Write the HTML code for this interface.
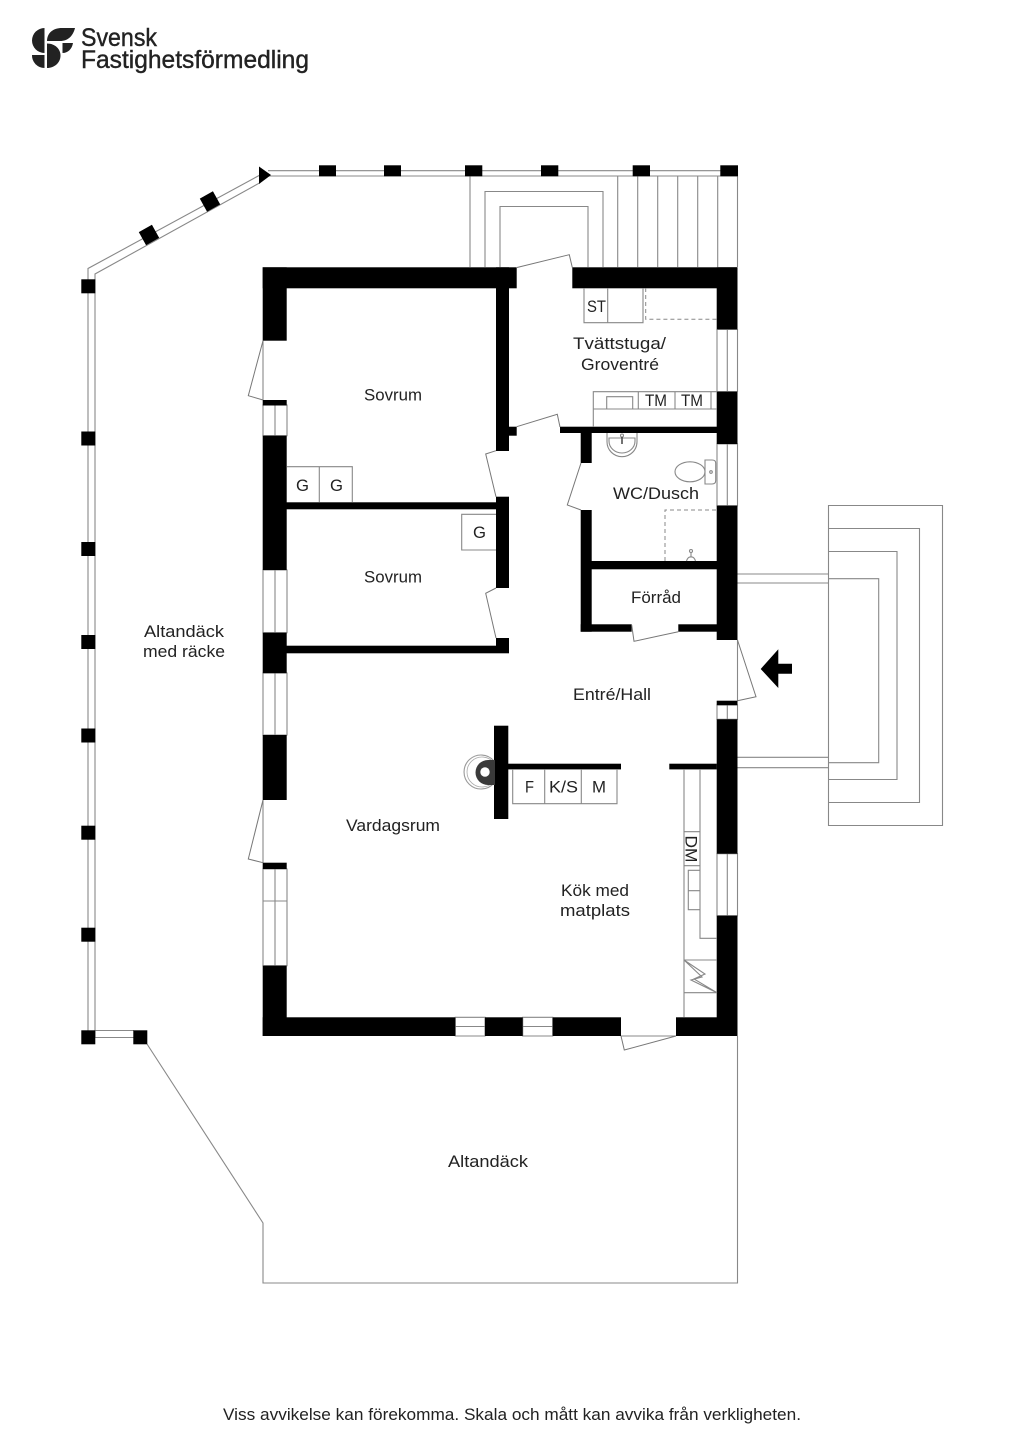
<!DOCTYPE html>
<html lang="sv"><head><meta charset="utf-8"><title>Planritning</title>
<style>
html,body{margin:0;padding:0;background:#fff;width:1024px;height:1448px;overflow:hidden}
svg{display:block}
text{font-family:"Liberation Sans",sans-serif;font-size:16.5px;fill:#222}
.l{fill:none;stroke:#888;stroke-width:1.1}
.t{fill:none;stroke:#777;stroke-width:1}
.d{fill:none;stroke:#888;stroke-width:1;stroke-dasharray:4 3}
</style></head><body>
<svg width="1024" height="1448" viewBox="0 0 1024 1448" xmlns="http://www.w3.org/2000/svg">
<rect width="1024" height="1448" fill="#fff"/>

<!-- logo -->
<g fill="#222">
<path d="M44.5 28A12.5 12.5 0 0 0 44.5 53Z"/>
<path d="M32 55H44.5V68A12.5 12.5 0 0 1 32 55Z"/>
<path d="M47 41C47 33 53 28 62 28H75C73 36 68 41 60 41Z"/>
<path d="M47 43.5C55 43.5 60.5 49 60.5 55.5C60.5 63 54 68 47 68Z"/>
<path d="M62.5 43H73C72 49 68 53 62.5 53Z"/>
</g>
<text x="81" y="46" textLength="76" lengthAdjust="spacingAndGlyphs" style="font-size:25px" stroke="#222" stroke-width=".4">Svensk</text>
<text x="81" y="68" textLength="228" lengthAdjust="spacingAndGlyphs" style="font-size:25px" stroke="#222" stroke-width=".4">Fastighetsförmedling</text>

<!-- deck outline and rails -->
<g class="l">
<path d="M88 1037V268.5L260 175"/>
<path d="M95 1037V274L260 182.7"/>
<path d="M268 170.7H738M268 176H738"/>
<path d="M95 1030.5H134M95 1037.5H134"/>
<path d="M147 1044L263 1223V1283H737.5V1036"/>
<path d="M737.5 170V267"/>
<!-- north steps -->
<path d="M470 176V267M485 267V191.5H603V267M500 267V206.5H588V267"/>
<path d="M617.7 176V267M637.7 176V267M657.7 176V267M677.7 176V267M697.7 176V267M717.7 176V267"/>
<!-- east steps -->
<path d="M828.5 505.5H942.5V825.5H828.5Z"/>
<path d="M828.5 528.5H919.5V802.5H828.5"/>
<path d="M828.5 551.5H897V779.5H828.5"/>
<path d="M828.5 578.7H878.7V762.7H828.5"/>
<path d="M737 574H828M737 583H828M737 757.3H828M737 767.7H828"/>
</g>

<!-- rail posts -->
<g fill="#000">
<rect x="319" y="165.3" width="17" height="11"/>
<rect x="384" y="165.3" width="17" height="11"/>
<rect x="465" y="165.3" width="17.3" height="11"/>
<rect x="541" y="165.3" width="17.3" height="11"/>
<rect x="632.7" y="165.3" width="17.3" height="11"/>
<rect x="720.3" y="165.3" width="17.7" height="11"/>
<rect x="81.3" y="279.3" width="14" height="14"/>
<rect x="81.3" y="431.5" width="14" height="14"/>
<rect x="81.3" y="542" width="14" height="14"/>
<rect x="81.3" y="635" width="14" height="14"/>
<rect x="81.3" y="728.5" width="14" height="14"/>
<rect x="81.3" y="825.7" width="14" height="14"/>
<rect x="81.3" y="927.7" width="14" height="14"/>
<rect x="81.3" y="1030.3" width="14" height="14"/>
<rect x="133.3" y="1030.3" width="14" height="14"/>
<rect x="-7.5" y="-7.5" width="15" height="15" transform="translate(149 235) rotate(-29)"/>
<rect x="-7.5" y="-7.5" width="15" height="15" transform="translate(210 201.5) rotate(-29)"/>
<path d="M259 166.5L271 175L259 184Z"/>
<!-- entrance arrow -->
<path d="M760.7 669L778.3 649.3V663.7H792V673.7H778.3V688Z"/>
</g>

<!-- windows -->
<g class="l">
<path d="M717 329.5H737.5V391.5H717ZM727.3 329.5V391.5"/>
<path d="M717 444H737.5V505.7H717ZM727.3 444V505.7"/>
<path d="M717 705H737.5V719.3H717ZM727.3 705V719.3"/>
<path d="M717 853.7H737.5V915.7H717ZM727.3 853.7V915.7"/>
<path d="M263 405H287V435.7H263ZM275 405V435.7"/>
<path d="M263 570H287V632.7H263ZM275 570V632.7"/>
<path d="M263 673H287V735H263ZM275 673V735"/>
<path d="M263 869H287V965.7H263ZM275 869V965.7M263 901H287"/>
<path d="M455.3 1017.3H485V1036H455.3ZM455.3 1026.5H485"/>
<path d="M522.7 1017.3H552.7V1036H522.7ZM522.7 1026.5H552.7"/>
<path d="M263 340.7V400M263 800V862.7M737.5 640V700.7M621 1036H676"/>
</g>

<!-- walls -->
<g fill="#000">
<rect x="262.7" y="267.3" width="254" height="21"/>
<rect x="572.3" y="267.3" width="165" height="21"/>
<rect x="716.7" y="267.3" width="20.8" height="62"/>
<rect x="716.7" y="391.7" width="20.8" height="52.3"/>
<rect x="716.7" y="505.7" width="20.8" height="134.3"/>
<rect x="716.7" y="700.7" width="20.8" height="4.5"/>
<rect x="716.7" y="719.3" width="20.8" height="134.4"/>
<rect x="716.7" y="915.7" width="20.8" height="120.3"/>
<rect x="262.7" y="267.3" width="24" height="73.4"/>
<rect x="262.7" y="400" width="24" height="5.5"/>
<rect x="262.7" y="435.7" width="24" height="134.3"/>
<rect x="262.7" y="632.7" width="24" height="40.5"/>
<rect x="262.7" y="735" width="24" height="65"/>
<rect x="262.7" y="862.7" width="24" height="6.3"/>
<rect x="262.7" y="965.7" width="24" height="70.3"/>
<rect x="262.7" y="1017.3" width="192.6" height="18.7"/>
<rect x="485" y="1017.3" width="37.7" height="18.7"/>
<rect x="552.7" y="1017.3" width="68.3" height="18.7"/>
<rect x="676" y="1017.3" width="61.5" height="18.7"/>
<rect x="496" y="267.3" width="13" height="183.7"/>
<rect x="509" y="426.7" width="7.7" height="9"/>
<rect x="496" y="496.7" width="13" height="91.3"/>
<rect x="496" y="638" width="13" height="15.3"/>
<rect x="286" y="502.3" width="210" height="7"/>
<rect x="286" y="645.7" width="210" height="7.6"/>
<rect x="560" y="426.7" width="157" height="6.3"/>
<rect x="580.7" y="427" width="11" height="36"/>
<rect x="580.7" y="510" width="11" height="121.7"/>
<rect x="591" y="561" width="126" height="8.3"/>
<rect x="580.7" y="624.3" width="51" height="7.4"/>
<rect x="678.3" y="624.3" width="39" height="7.4"/>
<rect x="494" y="725.7" width="14.3" height="93.3"/>
<rect x="508" y="763.7" width="113" height="5.7"/>
<rect x="669.3" y="763.7" width="47.5" height="5.7"/>
</g>

<!-- doors -->
<g class="t">
<path d="M263 340.7L248.3 395.7L263 400"/>
<path d="M496 450.7L485.7 454L496 496.7"/>
<path d="M496 588L485.7 593.3L496 638"/>
<path d="M516.7 426.7L557.3 414.3L560 427"/>
<path d="M517 267.5L569.3 254.7L572.3 267.5"/>
<path d="M581 463L567.3 505L581 510"/>
<path d="M631.7 625L634 641.3L678.3 631.7"/>
<path d="M737.5 640L756 696.7L737.5 700.7"/>
<path d="M621 1036L624.3 1050L676 1036"/>
<path d="M263 800L248.3 859L263 862.7"/>
</g>

<!-- fixtures -->
<g class="l">
<path d="M584 288V322.7H643V288M607.7 288V322.7"/>
<path d="M645.7 288V319.3H717" class="d"/>
<path d="M593.3 427V391.7H717M593.3 409H717M638.3 391.7V409M675 391.7V409M711 391.7V409"/>
<path d="M606.7 409V396.7H632.7V409"/>
<path d="M287 466.7H352.3V502M319.3 466.7V502"/>
<path d="M496 514.3H461.7V550H496"/>
<path d="M512.7 769V803.7H617V769M544.7 769V803.7M581.3 769V803.7"/>
<path d="M684 769V1017.3M700 769V938.3H717"/>
<path d="M684 831.7H700M684 865.7H700"/>
<path d="M700 870.3H688.3V909.7H700M688.3 890.7H700"/>
<path d="M684 960H717M684 992.7H717"/>
<path d="M684 960L705 974L694 979L717 992.7M684 960L702 977L691 980L717 992.7"/>
<path d="M665 561V510H717" class="d"/>
<!-- wash basin -->
<path d="M607 433V441.7A15 15 0 0 0 637 441.7V433"/>
<path d="M609 438H635V441A13 12 0 0 1 609 441Z"/>
<circle cx="622" cy="435.5" r="1.5"/>
<!-- toilet -->
<ellipse cx="690" cy="471.8" rx="15" ry="10"/>
<path d="M705 460H712Q715.7 460 715.7 463V480.500Q715.700 484 712 484H705Z"/>
<circle cx="711" cy="472" r="1.3"/>
<!-- shower -->
<path d="M691 552V557M686.5 561Q688 556.5 691 557Q694 556.5 695.5 561"/>
<circle cx="691" cy="551" r="1.5"/>
<!-- fireplace -->
<path d="M494 761A17 17 0 1 0 494 783" stroke="#999"/>
<path d="M494 763A15 15 0 1 0 494 781" stroke="#aaa" stroke-width=".8"/>
</g>
<path d="M622 437V444" stroke="#444" stroke-width="1.5" fill="none"/>
<path d="M495 760H488A12 12 0 0 0 488 785H495" fill="#3a3a3a" stroke="none"/>
<circle cx="485" cy="772" r="4.7" fill="#fff"/>

<!-- labels -->
<text x="364" y="400.5" textLength="58" lengthAdjust="spacingAndGlyphs">Sovrum</text>
<text x="364" y="582.5" textLength="58" lengthAdjust="spacingAndGlyphs">Sovrum</text>
<text x="573" y="349" textLength="93" lengthAdjust="spacingAndGlyphs">Tvättstuga/</text>
<text x="581" y="370" textLength="78" lengthAdjust="spacingAndGlyphs">Groventré</text>
<text x="587" y="312" textLength="19" lengthAdjust="spacingAndGlyphs">ST</text>
<text x="645" y="406" textLength="22" lengthAdjust="spacingAndGlyphs">TM</text>
<text x="681" y="406" textLength="22" lengthAdjust="spacingAndGlyphs">TM</text>
<text x="613" y="499" textLength="86" lengthAdjust="spacingAndGlyphs">WC/Dusch</text>
<text x="631" y="603" textLength="50" lengthAdjust="spacingAndGlyphs">Förråd</text>
<text x="296" y="491" textLength="13" lengthAdjust="spacingAndGlyphs">G</text>
<text x="330" y="491" textLength="13" lengthAdjust="spacingAndGlyphs">G</text>
<text x="473" y="538" textLength="13" lengthAdjust="spacingAndGlyphs">G</text>
<text x="573" y="700" textLength="78" lengthAdjust="spacingAndGlyphs">Entré/Hall</text>
<text x="525" y="792.5" textLength="9" lengthAdjust="spacingAndGlyphs">F</text>
<text x="549" y="792.5" textLength="29" lengthAdjust="spacingAndGlyphs">K/S</text>
<text x="592" y="792.5" textLength="14" lengthAdjust="spacingAndGlyphs">M</text>
<text x="0" y="0" textLength="27" lengthAdjust="spacingAndGlyphs" transform="translate(685.5 835.5) rotate(90)">DM</text>
<text x="561" y="896" textLength="68" lengthAdjust="spacingAndGlyphs">Kök med</text>
<text x="560" y="916" textLength="70" lengthAdjust="spacingAndGlyphs">matplats</text>
<text x="346" y="831" textLength="94" lengthAdjust="spacingAndGlyphs">Vardagsrum</text>
<text x="144" y="637" textLength="80" lengthAdjust="spacingAndGlyphs">Altandäck</text>
<text x="143" y="657" textLength="82" lengthAdjust="spacingAndGlyphs">med räcke</text>
<text x="448" y="1167" textLength="80" lengthAdjust="spacingAndGlyphs">Altandäck</text>
<text x="223" y="1420" textLength="578" lengthAdjust="spacingAndGlyphs">Viss avvikelse kan förekomma. Skala och mått kan avvika från verkligheten.</text>
</svg>
</body></html>
